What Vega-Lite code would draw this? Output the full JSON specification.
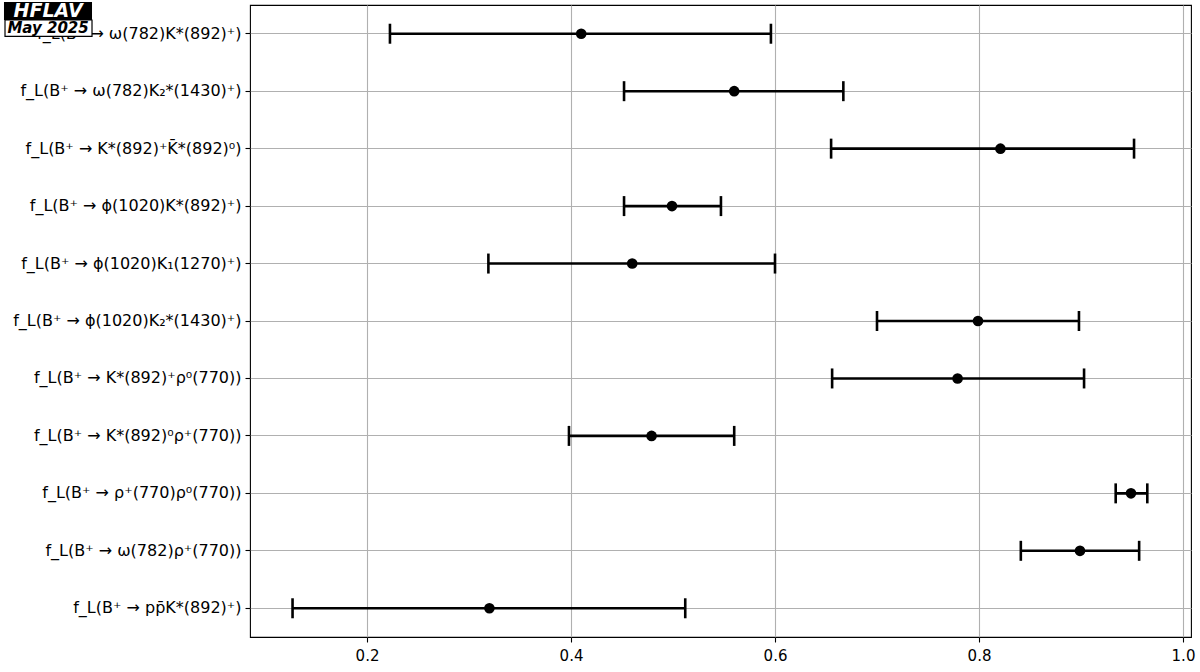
{
  "$schema": "https://vega.github.io/schema/vega-lite/v6.json",
  "autosize": {"type": "none"},
  "padding": {"left": 250, "top": 5, "right": 9, "bottom": 35},
  "width": 941,
  "height": 632,
  "background": "white",
  "config": {
    "font": "DejaVu Sans",
    "view": {"stroke": "black", "strokeWidth": 1.1},
    "axis": {
      "labelFont": "DejaVu Sans",
      "labelFontSize": 15,
      "labelColor": "black",
      "domain": false,
      "tickColor": "black",
      "tickSize": 5,
      "tickWidth": 1.1,
      "gridColor": "#b0b0b0",
      "gridWidth": 1.1,
      "gridOpacity": 1,
      "labelPadding": 4
    }
  },
  "layer": [
    {
      "data": {
        "values": [
          {"decay": "f_L(B⁺ → ω(782)K*(892)⁺)", "low": 0.2225, "value": 0.410, "high": 0.596},
          {"decay": "f_L(B⁺ → ω(782)K₂*(1430)⁺)", "low": 0.452, "value": 0.560, "high": 0.667},
          {"decay": "f_L(B⁺ → K*(892)⁺K̄*(892)⁰)", "low": 0.655, "value": 0.821, "high": 0.952},
          {"decay": "f_L(B⁺ → ϕ(1020)K*(892)⁺)", "low": 0.452, "value": 0.499, "high": 0.547},
          {"decay": "f_L(B⁺ → ϕ(1020)K₁(1270)⁺)", "low": 0.319, "value": 0.460, "high": 0.600},
          {"decay": "f_L(B⁺ → ϕ(1020)K₂*(1430)⁺)", "low": 0.700, "value": 0.799, "high": 0.898},
          {"decay": "f_L(B⁺ → K*(892)⁺ρ⁰(770))", "low": 0.656, "value": 0.779, "high": 0.903},
          {"decay": "f_L(B⁺ → K*(892)⁰ρ⁺(770))", "low": 0.398, "value": 0.479, "high": 0.560},
          {"decay": "f_L(B⁺ → ρ⁺(770)ρ⁰(770))", "low": 0.934, "value": 0.949, "high": 0.965},
          {"decay": "f_L(B⁺ → ω(782)ρ⁺(770))", "low": 0.841, "value": 0.899, "high": 0.957},
          {"decay": "f_L(B⁺ → pp̄K*(892)⁺)", "low": 0.127, "value": 0.320, "high": 0.512}
        ]
      },
      "encoding": {
        "y": {
          "field": "decay",
          "type": "nominal",
          "sort": null,
          "title": null,
          "axis": {"grid": true, "labelLimit": 0, "labelFontSize": 16}
        }
      },
      "layer": [
        {
          "mark": {"type": "rule", "color": "black", "strokeWidth": 2.6},
          "encoding": {
            "x": {
              "field": "low",
              "type": "quantitative",
              "title": null,
              "scale": {"domain": [0.08529, 1.00784], "nice": false, "zero": false},
              "axis": {"values": [0.2, 0.4, 0.6, 0.8, 1.0], "format": ".1f", "grid": true, "labelPadding": 6}
            },
            "x2": {"field": "high"}
          }
        },
        {
          "mark": {"type": "tick", "color": "black", "size": 20, "thickness": 2.6, "opacity": 1},
          "encoding": {"x": {"field": "low", "type": "quantitative", "title": null}}
        },
        {
          "mark": {"type": "tick", "color": "black", "size": 20, "thickness": 2.6, "opacity": 1},
          "encoding": {"x": {"field": "high", "type": "quantitative", "title": null}}
        },
        {
          "mark": {"type": "point", "shape": "circle", "filled": true, "color": "black", "size": 113, "opacity": 1},
          "encoding": {"x": {"field": "value", "type": "quantitative", "title": null}}
        }
      ]
    },
    {
      "data": {"values": [{"logo": "HFLAV", "date": "May 2025"}]},
      "layer": [
        {
          "mark": {"type": "rect", "color": "black"},
          "encoding": {
            "x": {"datum": -0.1559, "type": "quantitative", "title": null},
            "x2": {"datum": -0.0696},
            "y": {"datum": 1.0047, "type": "quantitative", "scale": {"domain": [0, 1], "nice": false, "zero": false}, "axis": null},
            "y2": {"datum": 0.9763}
          }
        },
        {
          "mark": {"type": "rect", "fill": "white", "stroke": "black", "strokeWidth": 1.2},
          "encoding": {
            "x": {"datum": -0.1549, "type": "quantitative", "title": null},
            "x2": {"datum": -0.0696},
            "y": {"datum": 0.9763, "type": "quantitative", "axis": null},
            "y2": {"datum": 0.9505}
          }
        },
        {
          "mark": {"type": "text", "color": "white", "fontSize": 19, "fontWeight": "bold", "fontStyle": "italic", "align": "center", "baseline": "middle"},
          "encoding": {
            "x": {"datum": -0.1127, "type": "quantitative", "title": null},
            "y": {"datum": 0.9898, "type": "quantitative", "axis": null},
            "text": {"field": "logo"}
          }
        },
        {
          "mark": {"type": "text", "color": "black", "fontSize": 15, "fontWeight": "bold", "fontStyle": "italic", "align": "center", "baseline": "middle"},
          "encoding": {
            "x": {"datum": -0.1127, "type": "quantitative", "title": null},
            "y": {"datum": 0.9636, "type": "quantitative", "axis": null},
            "text": {"field": "date"}
          }
        }
      ]
    }
  ],
  "resolve": {"scale": {"y": "independent"}, "axis": {"y": "independent"}}
}
